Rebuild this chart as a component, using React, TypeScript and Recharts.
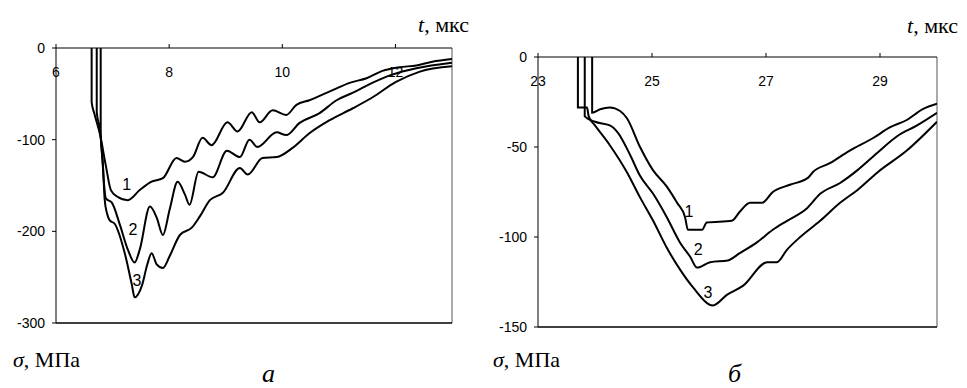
import React from 'react'
import { LineChart, Line, XAxis, YAxis, ReferenceLine, ReferenceDot } from 'recharts'

// (t, мкс ; σ, МПа)
const curveA1: [number, number][] = [
  [6.63, 0], [6.63, -59], [6.68, -72], [6.78, -95], [6.88, -128], [6.97, -155], [7.08, -162],
  [7.27, -166], [7.48, -155], [7.68, -146], [7.89, -142], [8.13, -120], [8.28, -124], [8.42, -119],
  [8.59, -98], [8.75, -106], [9.03, -81], [9.21, -91], [9.46, -70], [9.6, -81], [9.83, -68],
  [10.07, -73], [10.25, -62], [10.48, -57], [10.89, -46], [11.19, -38], [11.49, -33], [11.77, -25],
  [12.07, -21], [12.37, -19], [12.65, -15], [13.0, -12],
]
const curveA2: [number, number][] = [
  [6.72, 0], [6.72, -70], [6.78, -90], [6.81, -111], [6.85, -149], [6.88, -164], [6.99, -169],
  [7.13, -193], [7.27, -220], [7.39, -234], [7.48, -220], [7.66, -173], [7.78, -185], [7.89, -204],
  [8.01, -176], [8.15, -146], [8.28, -160], [8.36, -171], [8.52, -135], [8.77, -141], [9.02, -112],
  [9.25, -119], [9.42, -100], [9.56, -108], [9.9, -92], [10.07, -95], [10.3, -82], [10.66, -71],
  [10.96, -57], [11.24, -49], [11.59, -38], [11.94, -29], [12.37, -22], [13.0, -16],
]
const curveA3: [number, number][] = [
  [6.79, 0], [6.79, -95], [6.83, -128], [6.86, -165], [6.9, -180], [6.95, -188], [7.04, -192],
  [7.22, -225], [7.34, -258], [7.39, -272], [7.52, -259], [7.61, -237], [7.69, -224], [7.78, -236],
  [7.89, -240], [8.01, -227], [8.19, -204], [8.4, -196], [8.54, -184], [8.72, -166], [8.95, -158],
  [9.25, -131], [9.39, -138], [9.65, -120], [9.9, -119], [10.18, -109], [10.48, -93], [10.83, -79],
  [11.24, -66], [11.59, -54], [12.01, -37], [12.42, -26], [13.0, -20],
]

const curveB1: [number, number][] = [
  [23.95, 0], [23.95, -31], [24.09, -29], [24.26, -28], [24.44, -30], [24.56, -34], [24.79, -50],
  [25.02, -63], [25.26, -72], [25.44, -81], [25.58, -89], [25.63, -96], [25.88, -96], [25.96, -92],
  [26.4, -91], [26.54, -86], [26.72, -81], [26.93, -81], [27.12, -75], [27.42, -71], [27.74, -67],
  [27.82, -64], [28.12, -59], [28.47, -52], [28.88, -45], [29.18, -39], [29.47, -35], [29.75, -29],
  [30.0, -26],
]
const curveB2: [number, number][] = [
  [23.82, 0], [23.82, -33], [24.0, -36], [24.26, -38], [24.4, -42], [24.61, -54], [24.79, -66],
  [25.02, -76], [25.26, -89], [25.49, -103], [25.67, -111], [25.79, -117], [26.02, -114],
  [26.33, -113], [26.54, -109], [26.84, -103], [27.12, -96], [27.37, -91], [27.72, -84],
  [27.95, -76], [28.3, -70], [28.6, -63], [28.96, -53], [29.3, -44], [29.65, -38], [30.0, -31],
]
const curveB3: [number, number][] = [
  [23.7, 0], [23.7, -28], [23.86, -28], [23.89, -33], [24.0, -38], [24.26, -49], [24.56, -64],
  [24.79, -78], [25.02, -91], [25.26, -106], [25.49, -118], [25.72, -128], [26.07, -138],
  [26.32, -132], [26.6, -127], [27.02, -114], [27.19, -114], [27.37, -107], [27.6, -100],
  [27.95, -91], [28.3, -81], [28.6, -74], [28.96, -64], [29.47, -52], [30.0, -36],
]

const ticksXA = [6, 8, 10, 12]
const ticksYA = [0, -100, -200, -300]
const ticksXB = [23, 25, 27, 29]
const ticksYB = [0, -50, -100, -150]

// curve numbers: [label, t, σ]
const labelsA: [string, number, number][] = [['1', 7.25, -149], ['2', 7.36, -198], ['3', 7.43, -253]]
const labelsB: [string, number, number][] = [['1', 25.65, -86], ['2', 25.81, -107], ['3', 25.98, -131]]

const toRows = (pts: [number, number][]) => pts.map(([t, s]) => ({ t, s }))

const sans = "'Liberation Sans', Arial, sans-serif"
const serif = "'Times New Roman', 'Liberation Serif', Tinos, 'DejaVu Serif', serif"

const TopTick = (props: any) => {
  const { x, y, payload } = props
  return (
    <text x={x} y={y + 35} textAnchor="middle" fontFamily={sans} fontSize={14} fill="#000">
      {payload.value}
    </text>
  )
}

interface PanelProps {
  curves: [number, number][][]
  labels: [string, number, number][]
  xTicks: number[]
  yTicks: number[]
  xDomain: [number, number]
  yDomain: [number, number]
  width: number
  margin: { top: number; right: number; bottom: number; left: number }
  yWidth: number
}

function Panel({ curves, labels, xTicks, yTicks, xDomain, yDomain, width, margin, yWidth }: PanelProps) {
  return (
    <LineChart width={width} height={388} margin={margin}>
      <XAxis
        type="number"
        dataKey="t"
        orientation="top"
        domain={xDomain}
        ticks={xTicks}
        allowDataOverflow
        height={20}
        tickSize={4}
        tickMargin={2}
        tick={<TopTick />}
        stroke="#000"
      />
      <YAxis
        type="number"
        dataKey="s"
        domain={yDomain}
        ticks={yTicks}
        allowDataOverflow
        width={yWidth}
        tickSize={4}
        tickMargin={7}
        stroke="#000"
        tick={{ fontFamily: sans, fontSize: 14, fill: '#000' }}
      />
      <ReferenceLine x={xDomain[1]} stroke="#555" strokeWidth={1} />
      <ReferenceLine y={yDomain[0]} stroke="#000" strokeWidth={1.5} />
      {curves.map((c, i) => (
        <Line
          key={i}
          data={toRows(c)}
          dataKey="s"
          type="monotone"
          stroke="#000"
          strokeWidth={2}
          dot={false}
          isAnimationActive={false}
        />
      ))}
      {labels.map(([n, t, s]) => (
        <ReferenceDot
          key={n}
          x={t}
          y={s}
          r={0}
          fill="none"
          stroke="none"
          label={{ value: n, position: 'center', fontFamily: sans, fontSize: 16, fill: '#000' }}
        />
      ))}
    </LineChart>
  )
}

const textBase: React.CSSProperties = { position: 'absolute', fontFamily: serif, lineHeight: 1, color: '#000', whiteSpace: 'nowrap' }

export default function App() {
  return (
    <div style={{ position: 'absolute', left: 0, top: 0, width: 967, height: 388, background: '#fff', overflow: 'hidden' }}>
      <div style={{ position: 'absolute', left: 0, top: 0 }}>
        <Panel
          curves={[curveA1, curveA2, curveA3]}
          labels={labelsA}
          xTicks={ticksXA}
          yTicks={ticksYA}
          xDomain={[6, 13]}
          yDomain={[-300, 0]}
          width={480}
          margin={{ top: 28, right: 28, bottom: 65, left: 16 }}
          yWidth={40}
        />
      </div>
      <div style={{ position: 'absolute', left: 480, top: 0 }}>
        <Panel
          curves={[curveB1, curveB2, curveB3]}
          labels={labelsB}
          xTicks={ticksXB}
          yTicks={ticksYB}
          xDomain={[23, 30]}
          yDomain={[-150, 0]}
          width={487}
          margin={{ top: 37, right: 30, bottom: 61, left: 14 }}
          yWidth={44}
        />
      </div>
      <div style={{ ...textBase, left: 418, top: 14, fontSize: 22 }}><i>t</i>, мкс</div>
      <div style={{ ...textBase, left: 907, top: 15, fontSize: 22 }}><i>t</i>, мкс</div>
      <div style={{ ...textBase, left: 13, top: 349, fontSize: 22 }}><i>σ</i>, МПа</div>
      <div style={{ ...textBase, left: 493, top: 349, fontSize: 22 }}><i>σ</i>, МПа</div>
      <div style={{ ...textBase, left: 262, top: 361, fontSize: 26, fontStyle: 'italic' }}>а</div>
      <div style={{ ...textBase, left: 728, top: 361, fontSize: 26, fontStyle: 'italic' }}>б</div>
    </div>
  )
}
